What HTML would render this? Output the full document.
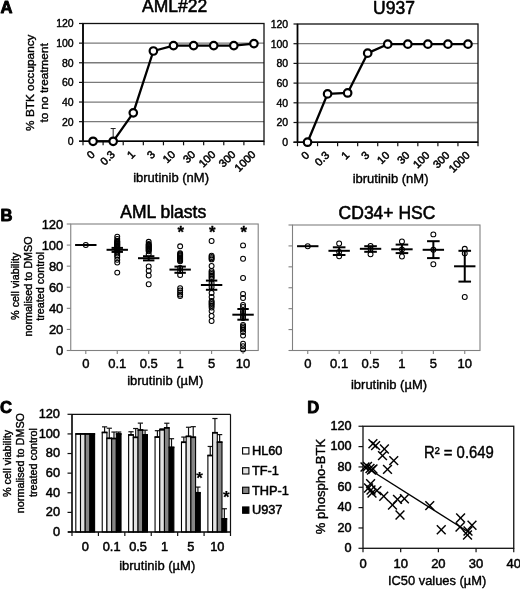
<!DOCTYPE html>
<html lang="en">
<head>
<meta charset="utf-8">
<title>Figure</title>
<style>
html,body{margin:0;padding:0;background:#fff;}
body{width:520px;height:589px;overflow:hidden;}
svg{display:block;font-family:'Liberation Sans', sans-serif;}
</style>
</head>
<body>
<svg width="520" height="589" viewBox="0 0 520 589">
<rect x="0" y="0" width="520" height="589" fill="#fff"/>
<line x1="83.00" y1="121.67" x2="264.00" y2="121.67" stroke="#7a7a7a" stroke-width="1.3" />
<line x1="83.00" y1="102.03" x2="264.00" y2="102.03" stroke="#7a7a7a" stroke-width="1.3" />
<line x1="83.00" y1="82.40" x2="264.00" y2="82.40" stroke="#7a7a7a" stroke-width="1.3" />
<line x1="83.00" y1="62.77" x2="264.00" y2="62.77" stroke="#7a7a7a" stroke-width="1.3" />
<line x1="83.00" y1="43.13" x2="264.00" y2="43.13" stroke="#7a7a7a" stroke-width="1.3" />
<rect x="83.00" y="23.50" width="181.00" height="117.80" fill="none" stroke="#111" stroke-width="1.3"/>
<line x1="83.00" y1="23.50" x2="83.00" y2="141.30" stroke="#000" stroke-width="1.6" />
<line x1="79.00" y1="141.30" x2="264.00" y2="141.30" stroke="#000" stroke-width="1.6" />
<line x1="79.00" y1="141.30" x2="83.00" y2="141.30" stroke="#111" stroke-width="1.2" />
<text x="73.70" y="145.20" font-size="10.5" text-anchor="end" font-weight="normal" fill="#000"  stroke="#000" stroke-width="0.4" stroke-linejoin="round">0</text>
<line x1="79.00" y1="121.67" x2="83.00" y2="121.67" stroke="#111" stroke-width="1.2" />
<text x="73.70" y="125.57" font-size="10.5" text-anchor="end" font-weight="normal" fill="#000"  stroke="#000" stroke-width="0.4" stroke-linejoin="round">20</text>
<line x1="79.00" y1="102.03" x2="83.00" y2="102.03" stroke="#111" stroke-width="1.2" />
<text x="73.70" y="105.93" font-size="10.5" text-anchor="end" font-weight="normal" fill="#000"  stroke="#000" stroke-width="0.4" stroke-linejoin="round">40</text>
<line x1="79.00" y1="82.40" x2="83.00" y2="82.40" stroke="#111" stroke-width="1.2" />
<text x="73.70" y="86.30" font-size="10.5" text-anchor="end" font-weight="normal" fill="#000"  stroke="#000" stroke-width="0.4" stroke-linejoin="round">60</text>
<line x1="79.00" y1="62.77" x2="83.00" y2="62.77" stroke="#111" stroke-width="1.2" />
<text x="73.70" y="66.67" font-size="10.5" text-anchor="end" font-weight="normal" fill="#000"  stroke="#000" stroke-width="0.4" stroke-linejoin="round">80</text>
<line x1="79.00" y1="43.13" x2="83.00" y2="43.13" stroke="#111" stroke-width="1.2" />
<text x="73.70" y="47.03" font-size="10.5" text-anchor="end" font-weight="normal" fill="#000"  stroke="#000" stroke-width="0.4" stroke-linejoin="round">100</text>
<line x1="79.00" y1="23.50" x2="83.00" y2="23.50" stroke="#111" stroke-width="1.2" />
<text x="73.70" y="27.40" font-size="10.5" text-anchor="end" font-weight="normal" fill="#000"  stroke="#000" stroke-width="0.4" stroke-linejoin="round">120</text>
<line x1="83.00" y1="141.30" x2="83.00" y2="145.30" stroke="#111" stroke-width="1.2" />
<line x1="103.11" y1="141.30" x2="103.11" y2="145.30" stroke="#111" stroke-width="1.2" />
<line x1="123.22" y1="141.30" x2="123.22" y2="145.30" stroke="#111" stroke-width="1.2" />
<line x1="143.33" y1="141.30" x2="143.33" y2="145.30" stroke="#111" stroke-width="1.2" />
<line x1="163.44" y1="141.30" x2="163.44" y2="145.30" stroke="#111" stroke-width="1.2" />
<line x1="183.56" y1="141.30" x2="183.56" y2="145.30" stroke="#111" stroke-width="1.2" />
<line x1="203.67" y1="141.30" x2="203.67" y2="145.30" stroke="#111" stroke-width="1.2" />
<line x1="223.78" y1="141.30" x2="223.78" y2="145.30" stroke="#111" stroke-width="1.2" />
<line x1="243.89" y1="141.30" x2="243.89" y2="145.30" stroke="#111" stroke-width="1.2" />
<line x1="264.00" y1="141.30" x2="264.00" y2="145.30" stroke="#111" stroke-width="1.2" />
<text x="95.56" y="155.10" font-size="11" text-anchor="end" font-weight="normal" fill="#000" transform="rotate(-45 95.56 155.10)"  stroke="#000" stroke-width="0.5" stroke-linejoin="round">0</text>
<text x="115.67" y="155.10" font-size="11" text-anchor="end" font-weight="normal" fill="#000" transform="rotate(-45 115.67 155.10)"  stroke="#000" stroke-width="0.5" stroke-linejoin="round">0.3</text>
<text x="135.78" y="155.10" font-size="11" text-anchor="end" font-weight="normal" fill="#000" transform="rotate(-45 135.78 155.10)"  stroke="#000" stroke-width="0.5" stroke-linejoin="round">1</text>
<text x="155.89" y="155.10" font-size="11" text-anchor="end" font-weight="normal" fill="#000" transform="rotate(-45 155.89 155.10)"  stroke="#000" stroke-width="0.5" stroke-linejoin="round">3</text>
<text x="176.00" y="155.10" font-size="11" text-anchor="end" font-weight="normal" fill="#000" transform="rotate(-45 176.00 155.10)"  stroke="#000" stroke-width="0.5" stroke-linejoin="round">10</text>
<text x="196.11" y="155.10" font-size="11" text-anchor="end" font-weight="normal" fill="#000" transform="rotate(-45 196.11 155.10)"  stroke="#000" stroke-width="0.5" stroke-linejoin="round">30</text>
<text x="216.22" y="155.10" font-size="11" text-anchor="end" font-weight="normal" fill="#000" transform="rotate(-45 216.22 155.10)"  stroke="#000" stroke-width="0.5" stroke-linejoin="round">100</text>
<text x="236.33" y="155.10" font-size="11" text-anchor="end" font-weight="normal" fill="#000" transform="rotate(-45 236.33 155.10)"  stroke="#000" stroke-width="0.5" stroke-linejoin="round">300</text>
<text x="256.44" y="155.10" font-size="11" text-anchor="end" font-weight="normal" fill="#000" transform="rotate(-45 256.44 155.10)"  stroke="#000" stroke-width="0.5" stroke-linejoin="round">1000</text>
<line x1="93.06" y1="141.30" x2="93.06" y2="138.36" stroke="#222" stroke-width="1" />
<line x1="90.56" y1="138.36" x2="95.56" y2="138.36" stroke="#222" stroke-width="1" />
<line x1="113.17" y1="141.30" x2="113.17" y2="128.54" stroke="#222" stroke-width="1" />
<line x1="110.67" y1="128.54" x2="115.67" y2="128.54" stroke="#222" stroke-width="1" />
<path d="M93.06,141.30 L113.17,141.30 L133.28,112.83 L153.39,50.99 L173.50,45.59 L193.61,45.59 L213.72,45.59 L233.83,45.59 L253.94,43.62" fill="none" stroke="#000" stroke-width="2.3" stroke-linejoin="round"/>
<circle cx="93.06" cy="141.30" r="3.75" fill="#fff" stroke="#000" stroke-width="2.2"/>
<circle cx="113.17" cy="141.30" r="3.75" fill="#fff" stroke="#000" stroke-width="2.2"/>
<circle cx="133.28" cy="112.83" r="3.75" fill="#fff" stroke="#000" stroke-width="2.2"/>
<circle cx="153.39" cy="50.99" r="3.75" fill="#fff" stroke="#000" stroke-width="2.2"/>
<circle cx="173.50" cy="45.59" r="3.75" fill="#fff" stroke="#000" stroke-width="2.2"/>
<circle cx="193.61" cy="45.59" r="3.75" fill="#fff" stroke="#000" stroke-width="2.2"/>
<circle cx="213.72" cy="45.59" r="3.75" fill="#fff" stroke="#000" stroke-width="2.2"/>
<circle cx="233.83" cy="45.59" r="3.75" fill="#fff" stroke="#000" stroke-width="2.2"/>
<circle cx="253.94" cy="43.62" r="3.75" fill="#fff" stroke="#000" stroke-width="2.2"/>
<text x="174.60" y="12.40" font-size="17.5" text-anchor="middle" font-weight="normal" fill="#000"  stroke="#000" stroke-width="0.55" stroke-linejoin="round">AML#22</text>
<text x="171.10" y="182.40" font-size="13" text-anchor="middle" font-weight="normal" fill="#000"  stroke="#000" stroke-width="0.4" stroke-linejoin="round">ibrutinib (nM)</text>
<line x1="297.50" y1="122.50" x2="478.00" y2="122.50" stroke="#7a7a7a" stroke-width="1.3" />
<line x1="297.50" y1="102.80" x2="478.00" y2="102.80" stroke="#7a7a7a" stroke-width="1.3" />
<line x1="297.50" y1="83.10" x2="478.00" y2="83.10" stroke="#7a7a7a" stroke-width="1.3" />
<line x1="297.50" y1="63.40" x2="478.00" y2="63.40" stroke="#7a7a7a" stroke-width="1.3" />
<line x1="297.50" y1="43.70" x2="478.00" y2="43.70" stroke="#7a7a7a" stroke-width="1.3" />
<rect x="297.50" y="24.00" width="180.50" height="118.20" fill="none" stroke="#111" stroke-width="1.3"/>
<line x1="297.50" y1="24.00" x2="297.50" y2="142.20" stroke="#000" stroke-width="1.6" />
<line x1="293.50" y1="142.20" x2="478.00" y2="142.20" stroke="#000" stroke-width="1.6" />
<line x1="293.50" y1="142.20" x2="297.50" y2="142.20" stroke="#111" stroke-width="1.2" />
<text x="288.20" y="146.10" font-size="10.5" text-anchor="end" font-weight="normal" fill="#000"  stroke="#000" stroke-width="0.4" stroke-linejoin="round">0</text>
<line x1="293.50" y1="122.50" x2="297.50" y2="122.50" stroke="#111" stroke-width="1.2" />
<text x="288.20" y="126.40" font-size="10.5" text-anchor="end" font-weight="normal" fill="#000"  stroke="#000" stroke-width="0.4" stroke-linejoin="round">20</text>
<line x1="293.50" y1="102.80" x2="297.50" y2="102.80" stroke="#111" stroke-width="1.2" />
<text x="288.20" y="106.70" font-size="10.5" text-anchor="end" font-weight="normal" fill="#000"  stroke="#000" stroke-width="0.4" stroke-linejoin="round">40</text>
<line x1="293.50" y1="83.10" x2="297.50" y2="83.10" stroke="#111" stroke-width="1.2" />
<text x="288.20" y="87.00" font-size="10.5" text-anchor="end" font-weight="normal" fill="#000"  stroke="#000" stroke-width="0.4" stroke-linejoin="round">60</text>
<line x1="293.50" y1="63.40" x2="297.50" y2="63.40" stroke="#111" stroke-width="1.2" />
<text x="288.20" y="67.30" font-size="10.5" text-anchor="end" font-weight="normal" fill="#000"  stroke="#000" stroke-width="0.4" stroke-linejoin="round">80</text>
<line x1="293.50" y1="43.70" x2="297.50" y2="43.70" stroke="#111" stroke-width="1.2" />
<text x="288.20" y="47.60" font-size="10.5" text-anchor="end" font-weight="normal" fill="#000"  stroke="#000" stroke-width="0.4" stroke-linejoin="round">100</text>
<line x1="293.50" y1="24.00" x2="297.50" y2="24.00" stroke="#111" stroke-width="1.2" />
<text x="288.20" y="27.90" font-size="10.5" text-anchor="end" font-weight="normal" fill="#000"  stroke="#000" stroke-width="0.4" stroke-linejoin="round">120</text>
<line x1="297.50" y1="142.20" x2="297.50" y2="146.20" stroke="#111" stroke-width="1.2" />
<line x1="317.56" y1="142.20" x2="317.56" y2="146.20" stroke="#111" stroke-width="1.2" />
<line x1="337.61" y1="142.20" x2="337.61" y2="146.20" stroke="#111" stroke-width="1.2" />
<line x1="357.67" y1="142.20" x2="357.67" y2="146.20" stroke="#111" stroke-width="1.2" />
<line x1="377.72" y1="142.20" x2="377.72" y2="146.20" stroke="#111" stroke-width="1.2" />
<line x1="397.78" y1="142.20" x2="397.78" y2="146.20" stroke="#111" stroke-width="1.2" />
<line x1="417.83" y1="142.20" x2="417.83" y2="146.20" stroke="#111" stroke-width="1.2" />
<line x1="437.89" y1="142.20" x2="437.89" y2="146.20" stroke="#111" stroke-width="1.2" />
<line x1="457.94" y1="142.20" x2="457.94" y2="146.20" stroke="#111" stroke-width="1.2" />
<line x1="478.00" y1="142.20" x2="478.00" y2="146.20" stroke="#111" stroke-width="1.2" />
<text x="310.03" y="156.00" font-size="11" text-anchor="end" font-weight="normal" fill="#000" transform="rotate(-45 310.03 156.00)"  stroke="#000" stroke-width="0.5" stroke-linejoin="round">0</text>
<text x="330.08" y="156.00" font-size="11" text-anchor="end" font-weight="normal" fill="#000" transform="rotate(-45 330.08 156.00)"  stroke="#000" stroke-width="0.5" stroke-linejoin="round">0.3</text>
<text x="350.14" y="156.00" font-size="11" text-anchor="end" font-weight="normal" fill="#000" transform="rotate(-45 350.14 156.00)"  stroke="#000" stroke-width="0.5" stroke-linejoin="round">1</text>
<text x="370.19" y="156.00" font-size="11" text-anchor="end" font-weight="normal" fill="#000" transform="rotate(-45 370.19 156.00)"  stroke="#000" stroke-width="0.5" stroke-linejoin="round">3</text>
<text x="390.25" y="156.00" font-size="11" text-anchor="end" font-weight="normal" fill="#000" transform="rotate(-45 390.25 156.00)"  stroke="#000" stroke-width="0.5" stroke-linejoin="round">10</text>
<text x="410.31" y="156.00" font-size="11" text-anchor="end" font-weight="normal" fill="#000" transform="rotate(-45 410.31 156.00)"  stroke="#000" stroke-width="0.5" stroke-linejoin="round">30</text>
<text x="430.36" y="156.00" font-size="11" text-anchor="end" font-weight="normal" fill="#000" transform="rotate(-45 430.36 156.00)"  stroke="#000" stroke-width="0.5" stroke-linejoin="round">100</text>
<text x="450.42" y="156.00" font-size="11" text-anchor="end" font-weight="normal" fill="#000" transform="rotate(-45 450.42 156.00)"  stroke="#000" stroke-width="0.5" stroke-linejoin="round">300</text>
<text x="470.47" y="156.00" font-size="11" text-anchor="end" font-weight="normal" fill="#000" transform="rotate(-45 470.47 156.00)"  stroke="#000" stroke-width="0.5" stroke-linejoin="round">1000</text>
<path d="M307.53,142.20 L327.58,93.93 L347.64,92.95 L367.69,53.16 L387.75,44.19 L407.81,44.19 L427.86,44.19 L447.92,44.19 L467.97,44.19" fill="none" stroke="#000" stroke-width="2.3" stroke-linejoin="round"/>
<circle cx="307.53" cy="142.20" r="3.75" fill="#fff" stroke="#000" stroke-width="2.2"/>
<circle cx="327.58" cy="93.93" r="3.75" fill="#fff" stroke="#000" stroke-width="2.2"/>
<circle cx="347.64" cy="92.95" r="3.75" fill="#fff" stroke="#000" stroke-width="2.2"/>
<circle cx="367.69" cy="53.16" r="3.75" fill="#fff" stroke="#000" stroke-width="2.2"/>
<circle cx="387.75" cy="44.19" r="3.75" fill="#fff" stroke="#000" stroke-width="2.2"/>
<circle cx="407.81" cy="44.19" r="3.75" fill="#fff" stroke="#000" stroke-width="2.2"/>
<circle cx="427.86" cy="44.19" r="3.75" fill="#fff" stroke="#000" stroke-width="2.2"/>
<circle cx="447.92" cy="44.19" r="3.75" fill="#fff" stroke="#000" stroke-width="2.2"/>
<circle cx="467.97" cy="44.19" r="3.75" fill="#fff" stroke="#000" stroke-width="2.2"/>
<text x="394.00" y="13.50" font-size="17.5" text-anchor="middle" font-weight="normal" fill="#000"  stroke="#000" stroke-width="0.55" stroke-linejoin="round">U937</text>
<text x="390.60" y="183.30" font-size="13" text-anchor="middle" font-weight="normal" fill="#000"  stroke="#000" stroke-width="0.4" stroke-linejoin="round">ibrutinib (nM)</text>
<text x="34.40" y="82.70" font-size="11.8" text-anchor="middle" font-weight="normal" fill="#000" transform="rotate(-90 34.40 82.70)"  stroke="#000" stroke-width="0.4" stroke-linejoin="round">% BTK occupancy</text>
<text x="48.40" y="82.90" font-size="11.8" text-anchor="middle" font-weight="normal" fill="#000" transform="rotate(-90 48.40 82.90)"  stroke="#000" stroke-width="0.4" stroke-linejoin="round">to no treatment</text>
<text x="0.40" y="13.40" font-size="16.6" text-anchor="start" font-weight="bold" fill="#000"  stroke="#000" stroke-width="0.9" stroke-linejoin="round">A</text>
<text x="0.50" y="220.50" font-size="16.6" text-anchor="start" font-weight="bold" fill="#000"  stroke="#000" stroke-width="0.9" stroke-linejoin="round">B</text>
<text x="0.10" y="412.70" font-size="16.6" text-anchor="start" font-weight="bold" fill="#000"  stroke="#000" stroke-width="0.9" stroke-linejoin="round">C</text>
<text x="307.30" y="412.90" font-size="16.6" text-anchor="start" font-weight="bold" fill="#000"  stroke="#000" stroke-width="0.9" stroke-linejoin="round">D</text>
<rect x="70.75" y="224.00" width="187.45" height="126.50" fill="none" stroke="#808080" stroke-width="1.1"/>
<line x1="66.75" y1="350.50" x2="70.75" y2="350.50" stroke="#808080" stroke-width="1.1" />
<text x="63.35" y="355.10" font-size="13" text-anchor="end" font-weight="normal" fill="#000"  stroke="#000" stroke-width="0.45" stroke-linejoin="round">0</text>
<line x1="66.75" y1="329.42" x2="70.75" y2="329.42" stroke="#808080" stroke-width="1.1" />
<text x="63.35" y="334.02" font-size="13" text-anchor="end" font-weight="normal" fill="#000"  stroke="#000" stroke-width="0.45" stroke-linejoin="round">20</text>
<line x1="66.75" y1="308.33" x2="70.75" y2="308.33" stroke="#808080" stroke-width="1.1" />
<text x="63.35" y="312.93" font-size="13" text-anchor="end" font-weight="normal" fill="#000"  stroke="#000" stroke-width="0.45" stroke-linejoin="round">40</text>
<line x1="66.75" y1="287.25" x2="70.75" y2="287.25" stroke="#808080" stroke-width="1.1" />
<text x="63.35" y="291.85" font-size="13" text-anchor="end" font-weight="normal" fill="#000"  stroke="#000" stroke-width="0.45" stroke-linejoin="round">60</text>
<line x1="66.75" y1="266.17" x2="70.75" y2="266.17" stroke="#808080" stroke-width="1.1" />
<text x="63.35" y="270.77" font-size="13" text-anchor="end" font-weight="normal" fill="#000"  stroke="#000" stroke-width="0.45" stroke-linejoin="round">80</text>
<line x1="66.75" y1="245.08" x2="70.75" y2="245.08" stroke="#808080" stroke-width="1.1" />
<text x="63.35" y="249.68" font-size="13" text-anchor="end" font-weight="normal" fill="#000"  stroke="#000" stroke-width="0.45" stroke-linejoin="round">100</text>
<line x1="66.75" y1="224.00" x2="70.75" y2="224.00" stroke="#808080" stroke-width="1.1" />
<text x="63.35" y="228.60" font-size="13" text-anchor="end" font-weight="normal" fill="#000"  stroke="#000" stroke-width="0.45" stroke-linejoin="round">120</text>
<line x1="85.80" y1="350.50" x2="85.80" y2="354.00" stroke="#808080" stroke-width="1.1" />
<text x="85.80" y="368.10" font-size="13" text-anchor="middle" font-weight="normal" fill="#000"  stroke="#000" stroke-width="0.45" stroke-linejoin="round">0</text>
<line x1="117.25" y1="350.50" x2="117.25" y2="354.00" stroke="#808080" stroke-width="1.1" />
<text x="117.25" y="368.10" font-size="13" text-anchor="middle" font-weight="normal" fill="#000"  stroke="#000" stroke-width="0.45" stroke-linejoin="round">0.1</text>
<line x1="148.70" y1="350.50" x2="148.70" y2="354.00" stroke="#808080" stroke-width="1.1" />
<text x="148.70" y="368.10" font-size="13" text-anchor="middle" font-weight="normal" fill="#000"  stroke="#000" stroke-width="0.45" stroke-linejoin="round">0.5</text>
<line x1="180.15" y1="350.50" x2="180.15" y2="354.00" stroke="#808080" stroke-width="1.1" />
<text x="180.15" y="368.10" font-size="13" text-anchor="middle" font-weight="normal" fill="#000"  stroke="#000" stroke-width="0.45" stroke-linejoin="round">1</text>
<line x1="211.60" y1="350.50" x2="211.60" y2="354.00" stroke="#808080" stroke-width="1.1" />
<text x="211.60" y="368.10" font-size="13" text-anchor="middle" font-weight="normal" fill="#000"  stroke="#000" stroke-width="0.45" stroke-linejoin="round">5</text>
<line x1="243.05" y1="350.50" x2="243.05" y2="354.00" stroke="#808080" stroke-width="1.1" />
<text x="243.05" y="368.10" font-size="13" text-anchor="middle" font-weight="normal" fill="#000"  stroke="#000" stroke-width="0.45" stroke-linejoin="round">10</text>
<circle cx="85.80" cy="245.00" r="2.45" fill="none" stroke="#000" stroke-width="1.05"/>
<line x1="75.10" y1="245.00" x2="96.50" y2="245.00" stroke="#000" stroke-width="2.0" />
<circle cx="117.25" cy="236.60" r="2.45" fill="none" stroke="#000" stroke-width="1.05"/>
<circle cx="117.25" cy="239.00" r="2.45" fill="none" stroke="#000" stroke-width="1.05"/>
<circle cx="117.25" cy="241.00" r="2.45" fill="none" stroke="#000" stroke-width="1.05"/>
<circle cx="117.25" cy="241.80" r="2.45" fill="none" stroke="#000" stroke-width="1.05"/>
<circle cx="117.25" cy="242.60" r="2.45" fill="none" stroke="#000" stroke-width="1.05"/>
<circle cx="117.25" cy="243.40" r="2.45" fill="none" stroke="#000" stroke-width="1.05"/>
<circle cx="117.25" cy="244.20" r="2.45" fill="none" stroke="#000" stroke-width="1.05"/>
<circle cx="117.25" cy="245.00" r="2.45" fill="none" stroke="#000" stroke-width="1.05"/>
<circle cx="117.25" cy="245.80" r="2.45" fill="none" stroke="#000" stroke-width="1.05"/>
<circle cx="117.25" cy="246.60" r="2.45" fill="none" stroke="#000" stroke-width="1.05"/>
<circle cx="117.25" cy="247.40" r="2.45" fill="none" stroke="#000" stroke-width="1.05"/>
<circle cx="117.25" cy="248.50" r="2.45" fill="none" stroke="#000" stroke-width="1.05"/>
<circle cx="117.25" cy="250.00" r="2.45" fill="none" stroke="#000" stroke-width="1.05"/>
<circle cx="117.25" cy="251.50" r="2.45" fill="none" stroke="#000" stroke-width="1.05"/>
<circle cx="117.25" cy="253.50" r="2.45" fill="none" stroke="#000" stroke-width="1.05"/>
<circle cx="117.25" cy="255.20" r="2.45" fill="none" stroke="#000" stroke-width="1.05"/>
<circle cx="117.25" cy="256.80" r="2.45" fill="none" stroke="#000" stroke-width="1.05"/>
<circle cx="117.25" cy="259.70" r="2.45" fill="none" stroke="#000" stroke-width="1.05"/>
<circle cx="117.25" cy="262.60" r="2.45" fill="none" stroke="#000" stroke-width="1.05"/>
<circle cx="117.25" cy="272.60" r="2.45" fill="none" stroke="#000" stroke-width="1.05"/>
<line x1="106.55" y1="249.80" x2="127.95" y2="249.80" stroke="#000" stroke-width="2.0" />
<line x1="117.25" y1="247.90" x2="117.25" y2="251.90" stroke="#000" stroke-width="2.0" />
<line x1="111.55" y1="247.90" x2="122.95" y2="247.90" stroke="#000" stroke-width="2.0" />
<line x1="111.55" y1="251.90" x2="122.95" y2="251.90" stroke="#000" stroke-width="2.0" />
<circle cx="148.70" cy="241.80" r="2.45" fill="none" stroke="#000" stroke-width="1.05"/>
<circle cx="148.70" cy="244.00" r="2.45" fill="none" stroke="#000" stroke-width="1.05"/>
<circle cx="148.70" cy="244.80" r="2.45" fill="none" stroke="#000" stroke-width="1.05"/>
<circle cx="148.70" cy="245.60" r="2.45" fill="none" stroke="#000" stroke-width="1.05"/>
<circle cx="148.70" cy="246.40" r="2.45" fill="none" stroke="#000" stroke-width="1.05"/>
<circle cx="148.70" cy="247.20" r="2.45" fill="none" stroke="#000" stroke-width="1.05"/>
<circle cx="148.70" cy="248.00" r="2.45" fill="none" stroke="#000" stroke-width="1.05"/>
<circle cx="148.70" cy="248.80" r="2.45" fill="none" stroke="#000" stroke-width="1.05"/>
<circle cx="148.70" cy="249.60" r="2.45" fill="none" stroke="#000" stroke-width="1.05"/>
<circle cx="148.70" cy="250.40" r="2.45" fill="none" stroke="#000" stroke-width="1.05"/>
<circle cx="148.70" cy="251.20" r="2.45" fill="none" stroke="#000" stroke-width="1.05"/>
<circle cx="148.70" cy="254.00" r="2.45" fill="none" stroke="#000" stroke-width="1.05"/>
<circle cx="148.70" cy="266.50" r="2.45" fill="none" stroke="#000" stroke-width="1.05"/>
<circle cx="148.70" cy="270.70" r="2.45" fill="none" stroke="#000" stroke-width="1.05"/>
<circle cx="148.70" cy="275.50" r="2.45" fill="none" stroke="#000" stroke-width="1.05"/>
<circle cx="148.70" cy="284.20" r="2.45" fill="none" stroke="#000" stroke-width="1.05"/>
<line x1="138.00" y1="258.20" x2="159.40" y2="258.20" stroke="#000" stroke-width="2.0" />
<line x1="148.70" y1="256.20" x2="148.70" y2="260.40" stroke="#000" stroke-width="2.0" />
<line x1="143.00" y1="256.20" x2="154.40" y2="256.20" stroke="#000" stroke-width="2.0" />
<line x1="143.00" y1="260.40" x2="154.40" y2="260.40" stroke="#000" stroke-width="2.0" />
<circle cx="180.15" cy="246.30" r="2.45" fill="none" stroke="#000" stroke-width="1.05"/>
<circle cx="180.15" cy="253.30" r="2.45" fill="none" stroke="#000" stroke-width="1.05"/>
<circle cx="180.15" cy="254.30" r="2.45" fill="none" stroke="#000" stroke-width="1.05"/>
<circle cx="180.15" cy="255.30" r="2.45" fill="none" stroke="#000" stroke-width="1.05"/>
<circle cx="180.15" cy="256.30" r="2.45" fill="none" stroke="#000" stroke-width="1.05"/>
<circle cx="180.15" cy="257.30" r="2.45" fill="none" stroke="#000" stroke-width="1.05"/>
<circle cx="180.15" cy="258.30" r="2.45" fill="none" stroke="#000" stroke-width="1.05"/>
<circle cx="180.15" cy="259.30" r="2.45" fill="none" stroke="#000" stroke-width="1.05"/>
<circle cx="180.15" cy="260.30" r="2.45" fill="none" stroke="#000" stroke-width="1.05"/>
<circle cx="180.15" cy="261.30" r="2.45" fill="none" stroke="#000" stroke-width="1.05"/>
<circle cx="180.15" cy="268.00" r="2.45" fill="none" stroke="#000" stroke-width="1.05"/>
<circle cx="180.15" cy="271.00" r="2.45" fill="none" stroke="#000" stroke-width="1.05"/>
<circle cx="180.15" cy="275.00" r="2.45" fill="none" stroke="#000" stroke-width="1.05"/>
<circle cx="180.15" cy="288.20" r="2.45" fill="none" stroke="#000" stroke-width="1.05"/>
<circle cx="180.15" cy="290.50" r="2.45" fill="none" stroke="#000" stroke-width="1.05"/>
<circle cx="180.15" cy="292.50" r="2.45" fill="none" stroke="#000" stroke-width="1.05"/>
<circle cx="180.15" cy="294.50" r="2.45" fill="none" stroke="#000" stroke-width="1.05"/>
<circle cx="180.15" cy="296.00" r="2.45" fill="none" stroke="#000" stroke-width="1.05"/>
<line x1="169.45" y1="269.60" x2="190.85" y2="269.60" stroke="#000" stroke-width="2.0" />
<line x1="180.15" y1="266.60" x2="180.15" y2="272.80" stroke="#000" stroke-width="2.0" />
<line x1="174.45" y1="266.60" x2="185.85" y2="266.60" stroke="#000" stroke-width="2.0" />
<line x1="174.45" y1="272.80" x2="185.85" y2="272.80" stroke="#000" stroke-width="2.0" />
<text x="180.85" y="238.10" font-size="16.8" text-anchor="middle" font-weight="bold" fill="#000"  stroke="#000" stroke-width="0.3" stroke-linejoin="round">*</text>
<circle cx="211.60" cy="241.00" r="2.45" fill="none" stroke="#000" stroke-width="1.05"/>
<circle cx="211.60" cy="255.60" r="2.45" fill="none" stroke="#000" stroke-width="1.05"/>
<circle cx="211.60" cy="257.00" r="2.45" fill="none" stroke="#000" stroke-width="1.05"/>
<circle cx="211.60" cy="258.20" r="2.45" fill="none" stroke="#000" stroke-width="1.05"/>
<circle cx="211.60" cy="259.40" r="2.45" fill="none" stroke="#000" stroke-width="1.05"/>
<circle cx="211.60" cy="266.00" r="2.45" fill="none" stroke="#000" stroke-width="1.05"/>
<circle cx="211.60" cy="271.00" r="2.45" fill="none" stroke="#000" stroke-width="1.05"/>
<circle cx="211.60" cy="272.50" r="2.45" fill="none" stroke="#000" stroke-width="1.05"/>
<circle cx="211.60" cy="274.00" r="2.45" fill="none" stroke="#000" stroke-width="1.05"/>
<circle cx="211.60" cy="275.50" r="2.45" fill="none" stroke="#000" stroke-width="1.05"/>
<circle cx="211.60" cy="277.00" r="2.45" fill="none" stroke="#000" stroke-width="1.05"/>
<circle cx="211.60" cy="278.50" r="2.45" fill="none" stroke="#000" stroke-width="1.05"/>
<circle cx="211.60" cy="283.00" r="2.45" fill="none" stroke="#000" stroke-width="1.05"/>
<circle cx="211.60" cy="287.00" r="2.45" fill="none" stroke="#000" stroke-width="1.05"/>
<circle cx="211.60" cy="293.00" r="2.45" fill="none" stroke="#000" stroke-width="1.05"/>
<circle cx="211.60" cy="297.00" r="2.45" fill="none" stroke="#000" stroke-width="1.05"/>
<circle cx="211.60" cy="301.00" r="2.45" fill="none" stroke="#000" stroke-width="1.05"/>
<circle cx="211.60" cy="302.50" r="2.45" fill="none" stroke="#000" stroke-width="1.05"/>
<circle cx="211.60" cy="304.00" r="2.45" fill="none" stroke="#000" stroke-width="1.05"/>
<circle cx="211.60" cy="305.50" r="2.45" fill="none" stroke="#000" stroke-width="1.05"/>
<circle cx="211.60" cy="307.50" r="2.45" fill="none" stroke="#000" stroke-width="1.05"/>
<circle cx="211.60" cy="311.00" r="2.45" fill="none" stroke="#000" stroke-width="1.05"/>
<circle cx="211.60" cy="316.00" r="2.45" fill="none" stroke="#000" stroke-width="1.05"/>
<circle cx="211.60" cy="321.00" r="2.45" fill="none" stroke="#000" stroke-width="1.05"/>
<line x1="200.90" y1="285.00" x2="222.30" y2="285.00" stroke="#000" stroke-width="2.0" />
<line x1="211.60" y1="280.60" x2="211.60" y2="289.80" stroke="#000" stroke-width="2.0" />
<line x1="205.90" y1="280.60" x2="217.30" y2="280.60" stroke="#000" stroke-width="2.0" />
<line x1="205.90" y1="289.80" x2="217.30" y2="289.80" stroke="#000" stroke-width="2.0" />
<text x="212.30" y="238.10" font-size="16.8" text-anchor="middle" font-weight="bold" fill="#000"  stroke="#000" stroke-width="0.3" stroke-linejoin="round">*</text>
<circle cx="243.05" cy="245.40" r="2.45" fill="none" stroke="#000" stroke-width="1.05"/>
<circle cx="243.05" cy="258.70" r="2.45" fill="none" stroke="#000" stroke-width="1.05"/>
<circle cx="243.05" cy="278.00" r="2.45" fill="none" stroke="#000" stroke-width="1.05"/>
<circle cx="243.05" cy="294.00" r="2.45" fill="none" stroke="#000" stroke-width="1.05"/>
<circle cx="243.05" cy="298.00" r="2.45" fill="none" stroke="#000" stroke-width="1.05"/>
<circle cx="243.05" cy="305.00" r="2.45" fill="none" stroke="#000" stroke-width="1.05"/>
<circle cx="243.05" cy="307.00" r="2.45" fill="none" stroke="#000" stroke-width="1.05"/>
<circle cx="243.05" cy="311.00" r="2.45" fill="none" stroke="#000" stroke-width="1.05"/>
<circle cx="243.05" cy="313.00" r="2.45" fill="none" stroke="#000" stroke-width="1.05"/>
<circle cx="243.05" cy="316.00" r="2.45" fill="none" stroke="#000" stroke-width="1.05"/>
<circle cx="243.05" cy="318.00" r="2.45" fill="none" stroke="#000" stroke-width="1.05"/>
<circle cx="243.05" cy="325.00" r="2.45" fill="none" stroke="#000" stroke-width="1.05"/>
<circle cx="243.05" cy="326.50" r="2.45" fill="none" stroke="#000" stroke-width="1.05"/>
<circle cx="243.05" cy="328.00" r="2.45" fill="none" stroke="#000" stroke-width="1.05"/>
<circle cx="243.05" cy="329.50" r="2.45" fill="none" stroke="#000" stroke-width="1.05"/>
<circle cx="243.05" cy="332.00" r="2.45" fill="none" stroke="#000" stroke-width="1.05"/>
<circle cx="243.05" cy="335.60" r="2.45" fill="none" stroke="#000" stroke-width="1.05"/>
<circle cx="243.05" cy="343.70" r="2.45" fill="none" stroke="#000" stroke-width="1.05"/>
<circle cx="243.05" cy="346.20" r="2.45" fill="none" stroke="#000" stroke-width="1.05"/>
<circle cx="243.05" cy="349.40" r="2.45" fill="none" stroke="#000" stroke-width="1.05"/>
<line x1="232.35" y1="314.70" x2="253.75" y2="314.70" stroke="#000" stroke-width="2.0" />
<line x1="243.05" y1="309.00" x2="243.05" y2="319.70" stroke="#000" stroke-width="2.0" />
<line x1="237.35" y1="309.00" x2="248.75" y2="309.00" stroke="#000" stroke-width="2.0" />
<line x1="237.35" y1="319.70" x2="248.75" y2="319.70" stroke="#000" stroke-width="2.0" />
<text x="243.75" y="238.10" font-size="16.8" text-anchor="middle" font-weight="bold" fill="#000"  stroke="#000" stroke-width="0.3" stroke-linejoin="round">*</text>
<text x="163.20" y="218.20" font-size="17.5" text-anchor="middle" font-weight="normal" fill="#000"  stroke="#000" stroke-width="0.55" stroke-linejoin="round">AML blasts</text>
<text x="165.20" y="385.40" font-size="13" text-anchor="middle" font-weight="normal" fill="#000"  stroke="#000" stroke-width="0.4" stroke-linejoin="round">ibrutinib (µM)</text>
<rect x="292.50" y="225.00" width="187.50" height="125.50" fill="none" stroke="#808080" stroke-width="1.1"/>
<line x1="288.50" y1="350.50" x2="292.50" y2="350.50" stroke="#808080" stroke-width="1.1" />
<line x1="288.50" y1="329.58" x2="292.50" y2="329.58" stroke="#808080" stroke-width="1.1" />
<line x1="288.50" y1="308.67" x2="292.50" y2="308.67" stroke="#808080" stroke-width="1.1" />
<line x1="288.50" y1="287.75" x2="292.50" y2="287.75" stroke="#808080" stroke-width="1.1" />
<line x1="288.50" y1="266.83" x2="292.50" y2="266.83" stroke="#808080" stroke-width="1.1" />
<line x1="288.50" y1="245.92" x2="292.50" y2="245.92" stroke="#808080" stroke-width="1.1" />
<line x1="288.50" y1="225.00" x2="292.50" y2="225.00" stroke="#808080" stroke-width="1.1" />
<line x1="307.75" y1="350.50" x2="307.75" y2="354.00" stroke="#808080" stroke-width="1.1" />
<text x="307.75" y="368.10" font-size="13" text-anchor="middle" font-weight="normal" fill="#000"  stroke="#000" stroke-width="0.45" stroke-linejoin="round">0</text>
<line x1="339.15" y1="350.50" x2="339.15" y2="354.00" stroke="#808080" stroke-width="1.1" />
<text x="339.15" y="368.10" font-size="13" text-anchor="middle" font-weight="normal" fill="#000"  stroke="#000" stroke-width="0.45" stroke-linejoin="round">0.1</text>
<line x1="370.55" y1="350.50" x2="370.55" y2="354.00" stroke="#808080" stroke-width="1.1" />
<text x="370.55" y="368.10" font-size="13" text-anchor="middle" font-weight="normal" fill="#000"  stroke="#000" stroke-width="0.45" stroke-linejoin="round">0.5</text>
<line x1="401.95" y1="350.50" x2="401.95" y2="354.00" stroke="#808080" stroke-width="1.1" />
<text x="401.95" y="368.10" font-size="13" text-anchor="middle" font-weight="normal" fill="#000"  stroke="#000" stroke-width="0.45" stroke-linejoin="round">1</text>
<line x1="433.35" y1="350.50" x2="433.35" y2="354.00" stroke="#808080" stroke-width="1.1" />
<text x="433.35" y="368.10" font-size="13" text-anchor="middle" font-weight="normal" fill="#000"  stroke="#000" stroke-width="0.45" stroke-linejoin="round">5</text>
<line x1="464.75" y1="350.50" x2="464.75" y2="354.00" stroke="#808080" stroke-width="1.1" />
<text x="464.75" y="368.10" font-size="13" text-anchor="middle" font-weight="normal" fill="#000"  stroke="#000" stroke-width="0.45" stroke-linejoin="round">10</text>
<circle cx="307.75" cy="246.20" r="2.45" fill="none" stroke="#000" stroke-width="1.05"/>
<line x1="297.05" y1="246.20" x2="318.45" y2="246.20" stroke="#000" stroke-width="2.0" />
<circle cx="339.15" cy="243.50" r="2.45" fill="none" stroke="#000" stroke-width="1.05"/>
<circle cx="339.15" cy="252.00" r="2.45" fill="none" stroke="#000" stroke-width="1.05"/>
<circle cx="339.15" cy="256.20" r="2.45" fill="none" stroke="#000" stroke-width="1.05"/>
<line x1="328.45" y1="250.80" x2="349.85" y2="250.80" stroke="#000" stroke-width="2.0" />
<line x1="339.15" y1="247.30" x2="339.15" y2="255.00" stroke="#000" stroke-width="2.0" />
<line x1="332.85" y1="247.30" x2="345.45" y2="247.30" stroke="#000" stroke-width="2.0" />
<line x1="332.85" y1="255.00" x2="345.45" y2="255.00" stroke="#000" stroke-width="2.0" />
<circle cx="370.55" cy="246.00" r="2.45" fill="none" stroke="#000" stroke-width="1.05"/>
<circle cx="370.55" cy="249.00" r="2.45" fill="none" stroke="#000" stroke-width="1.05"/>
<circle cx="370.55" cy="254.20" r="2.45" fill="none" stroke="#000" stroke-width="1.05"/>
<line x1="359.85" y1="248.80" x2="381.25" y2="248.80" stroke="#000" stroke-width="2.0" />
<line x1="370.55" y1="246.20" x2="370.55" y2="251.80" stroke="#000" stroke-width="2.0" />
<line x1="364.25" y1="246.20" x2="376.85" y2="246.20" stroke="#000" stroke-width="2.0" />
<line x1="364.25" y1="251.80" x2="376.85" y2="251.80" stroke="#000" stroke-width="2.0" />
<circle cx="401.95" cy="241.50" r="2.45" fill="none" stroke="#000" stroke-width="1.05"/>
<circle cx="401.95" cy="249.50" r="2.45" fill="none" stroke="#000" stroke-width="1.05"/>
<circle cx="401.95" cy="256.50" r="2.45" fill="none" stroke="#000" stroke-width="1.05"/>
<line x1="391.25" y1="249.30" x2="412.65" y2="249.30" stroke="#000" stroke-width="2.0" />
<line x1="401.95" y1="244.60" x2="401.95" y2="253.10" stroke="#000" stroke-width="2.0" />
<line x1="395.65" y1="244.60" x2="408.25" y2="244.60" stroke="#000" stroke-width="2.0" />
<line x1="395.65" y1="253.10" x2="408.25" y2="253.10" stroke="#000" stroke-width="2.0" />
<circle cx="433.35" cy="234.40" r="2.45" fill="none" stroke="#000" stroke-width="1.05"/>
<circle cx="433.35" cy="249.80" r="2.45" fill="none" stroke="#000" stroke-width="1.05"/>
<circle cx="433.35" cy="264.20" r="2.45" fill="none" stroke="#000" stroke-width="1.05"/>
<line x1="422.65" y1="249.80" x2="444.05" y2="249.80" stroke="#000" stroke-width="2.0" />
<line x1="433.35" y1="241.20" x2="433.35" y2="258.10" stroke="#000" stroke-width="2.0" />
<line x1="427.05" y1="241.20" x2="439.65" y2="241.20" stroke="#000" stroke-width="2.0" />
<line x1="427.05" y1="258.10" x2="439.65" y2="258.10" stroke="#000" stroke-width="2.0" />
<circle cx="464.75" cy="248.80" r="2.45" fill="none" stroke="#000" stroke-width="1.05"/>
<circle cx="464.75" cy="253.50" r="2.45" fill="none" stroke="#000" stroke-width="1.05"/>
<circle cx="464.75" cy="297.00" r="2.45" fill="none" stroke="#000" stroke-width="1.05"/>
<line x1="454.05" y1="266.30" x2="475.45" y2="266.30" stroke="#000" stroke-width="2.0" />
<line x1="464.75" y1="250.80" x2="464.75" y2="281.60" stroke="#000" stroke-width="2.0" />
<line x1="458.45" y1="250.80" x2="471.05" y2="250.80" stroke="#000" stroke-width="2.0" />
<line x1="458.45" y1="281.60" x2="471.05" y2="281.60" stroke="#000" stroke-width="2.0" />
<text x="387.00" y="218.50" font-size="17.5" text-anchor="middle" font-weight="normal" fill="#000"  stroke="#000" stroke-width="0.55" stroke-linejoin="round">CD34+ HSC</text>
<text x="389.00" y="388.80" font-size="13" text-anchor="middle" font-weight="normal" fill="#000"  stroke="#000" stroke-width="0.4" stroke-linejoin="round">ibrutinib (µM)</text>
<text x="18.70" y="286.30" font-size="10.8" text-anchor="middle" font-weight="normal" fill="#000" transform="rotate(-90 18.70 286.30)"  stroke="#000" stroke-width="0.4" stroke-linejoin="round">% cell viability</text>
<text x="31.60" y="286.50" font-size="10.8" text-anchor="middle" font-weight="normal" fill="#000" transform="rotate(-90 31.60 286.50)"  stroke="#000" stroke-width="0.4" stroke-linejoin="round">normalised to DMSO</text>
<text x="44.40" y="286.30" font-size="10.8" text-anchor="middle" font-weight="normal" fill="#000" transform="rotate(-90 44.40 286.30)"  stroke="#000" stroke-width="0.4" stroke-linejoin="round">treated control</text>
<rect x="75.81" y="433.92" width="4.70" height="98.08" fill="#fff" stroke="#000" stroke-width="1.1"/>
<line x1="75.31" y1="433.92" x2="81.01" y2="433.92" stroke="#000" stroke-width="1.7" />
<rect x="80.51" y="433.92" width="4.70" height="98.08" fill="#e2e2e2" stroke="#000" stroke-width="1.1"/>
<line x1="80.01" y1="433.92" x2="85.71" y2="433.92" stroke="#000" stroke-width="1.7" />
<rect x="85.21" y="433.92" width="4.70" height="98.08" fill="#858585" stroke="#000" stroke-width="1.1"/>
<line x1="84.71" y1="433.92" x2="90.41" y2="433.92" stroke="#000" stroke-width="1.7" />
<rect x="89.91" y="433.92" width="4.70" height="98.08" fill="#000" stroke="#000" stroke-width="1.1"/>
<line x1="89.41" y1="433.92" x2="95.11" y2="433.92" stroke="#000" stroke-width="1.7" />
<line x1="104.58" y1="432.45" x2="104.58" y2="426.85" stroke="#111" stroke-width="1.2" />
<line x1="101.98" y1="426.85" x2="107.17" y2="426.85" stroke="#111" stroke-width="1.2" />
<line x1="109.28" y1="438.33" x2="109.28" y2="428.23" stroke="#111" stroke-width="1.2" />
<line x1="106.68" y1="428.23" x2="111.88" y2="428.23" stroke="#111" stroke-width="1.2" />
<line x1="113.98" y1="438.53" x2="113.98" y2="432.05" stroke="#111" stroke-width="1.2" />
<line x1="111.38" y1="432.05" x2="116.58" y2="432.05" stroke="#111" stroke-width="1.2" />
<line x1="118.68" y1="433.92" x2="118.68" y2="432.05" stroke="#111" stroke-width="1.2" />
<line x1="116.08" y1="432.05" x2="121.28" y2="432.05" stroke="#111" stroke-width="1.2" />
<rect x="102.23" y="432.45" width="4.70" height="99.55" fill="#fff" stroke="#000" stroke-width="1.1"/>
<line x1="101.73" y1="432.45" x2="107.43" y2="432.45" stroke="#000" stroke-width="1.7" />
<rect x="106.93" y="438.33" width="4.70" height="93.67" fill="#e2e2e2" stroke="#000" stroke-width="1.1"/>
<line x1="106.43" y1="438.33" x2="112.13" y2="438.33" stroke="#000" stroke-width="1.7" />
<rect x="111.63" y="438.53" width="4.70" height="93.47" fill="#858585" stroke="#000" stroke-width="1.1"/>
<line x1="111.13" y1="438.53" x2="116.83" y2="438.53" stroke="#000" stroke-width="1.7" />
<rect x="116.33" y="433.92" width="4.70" height="98.08" fill="#000" stroke="#000" stroke-width="1.1"/>
<line x1="115.83" y1="433.92" x2="121.53" y2="433.92" stroke="#000" stroke-width="1.7" />
<line x1="130.99" y1="434.90" x2="130.99" y2="431.76" stroke="#111" stroke-width="1.2" />
<line x1="128.39" y1="431.76" x2="133.59" y2="431.76" stroke="#111" stroke-width="1.2" />
<line x1="135.69" y1="437.35" x2="135.69" y2="428.52" stroke="#111" stroke-width="1.2" />
<line x1="133.09" y1="428.52" x2="138.29" y2="428.52" stroke="#111" stroke-width="1.2" />
<line x1="140.39" y1="429.99" x2="140.39" y2="423.13" stroke="#111" stroke-width="1.2" />
<line x1="137.79" y1="423.13" x2="142.99" y2="423.13" stroke="#111" stroke-width="1.2" />
<line x1="145.09" y1="434.90" x2="145.09" y2="430.19" stroke="#111" stroke-width="1.2" />
<line x1="142.49" y1="430.19" x2="147.69" y2="430.19" stroke="#111" stroke-width="1.2" />
<rect x="128.64" y="434.90" width="4.70" height="97.10" fill="#fff" stroke="#000" stroke-width="1.1"/>
<line x1="128.14" y1="434.90" x2="133.84" y2="434.90" stroke="#000" stroke-width="1.7" />
<rect x="133.34" y="437.35" width="4.70" height="94.65" fill="#e2e2e2" stroke="#000" stroke-width="1.1"/>
<line x1="132.84" y1="437.35" x2="138.54" y2="437.35" stroke="#000" stroke-width="1.7" />
<rect x="138.04" y="429.99" width="4.70" height="102.01" fill="#858585" stroke="#000" stroke-width="1.1"/>
<line x1="137.54" y1="429.99" x2="143.24" y2="429.99" stroke="#000" stroke-width="1.7" />
<rect x="142.74" y="434.90" width="4.70" height="97.10" fill="#000" stroke="#000" stroke-width="1.1"/>
<line x1="142.24" y1="434.90" x2="147.94" y2="434.90" stroke="#000" stroke-width="1.7" />
<line x1="157.41" y1="437.06" x2="157.41" y2="430.68" stroke="#111" stroke-width="1.2" />
<line x1="154.81" y1="430.68" x2="160.01" y2="430.68" stroke="#111" stroke-width="1.2" />
<line x1="162.11" y1="429.70" x2="162.11" y2="428.91" stroke="#111" stroke-width="1.2" />
<line x1="159.51" y1="428.91" x2="164.71" y2="428.91" stroke="#111" stroke-width="1.2" />
<line x1="166.81" y1="427.84" x2="166.81" y2="423.23" stroke="#111" stroke-width="1.2" />
<line x1="164.21" y1="423.23" x2="169.41" y2="423.23" stroke="#111" stroke-width="1.2" />
<line x1="171.51" y1="447.35" x2="171.51" y2="438.72" stroke="#111" stroke-width="1.2" />
<line x1="168.91" y1="438.72" x2="174.11" y2="438.72" stroke="#111" stroke-width="1.2" />
<rect x="155.06" y="437.06" width="4.70" height="94.94" fill="#fff" stroke="#000" stroke-width="1.1"/>
<line x1="154.56" y1="437.06" x2="160.26" y2="437.06" stroke="#000" stroke-width="1.7" />
<rect x="159.76" y="429.70" width="4.70" height="102.30" fill="#e2e2e2" stroke="#000" stroke-width="1.1"/>
<line x1="159.26" y1="429.70" x2="164.96" y2="429.70" stroke="#000" stroke-width="1.7" />
<rect x="164.46" y="427.84" width="4.70" height="104.16" fill="#858585" stroke="#000" stroke-width="1.1"/>
<line x1="163.96" y1="427.84" x2="169.66" y2="427.84" stroke="#000" stroke-width="1.7" />
<rect x="169.16" y="447.35" width="4.70" height="84.65" fill="#000" stroke="#000" stroke-width="1.1"/>
<line x1="168.66" y1="447.35" x2="174.36" y2="447.35" stroke="#000" stroke-width="1.7" />
<line x1="183.83" y1="442.25" x2="183.83" y2="437.06" stroke="#111" stroke-width="1.2" />
<line x1="181.23" y1="437.06" x2="186.43" y2="437.06" stroke="#111" stroke-width="1.2" />
<line x1="188.53" y1="436.37" x2="188.53" y2="427.25" stroke="#111" stroke-width="1.2" />
<line x1="185.93" y1="427.25" x2="191.12" y2="427.25" stroke="#111" stroke-width="1.2" />
<line x1="193.23" y1="437.25" x2="193.23" y2="426.66" stroke="#111" stroke-width="1.2" />
<line x1="190.63" y1="426.66" x2="195.83" y2="426.66" stroke="#111" stroke-width="1.2" />
<line x1="197.93" y1="492.77" x2="197.93" y2="487.08" stroke="#111" stroke-width="1.2" />
<line x1="195.33" y1="487.08" x2="200.53" y2="487.08" stroke="#111" stroke-width="1.2" />
<rect x="181.48" y="442.25" width="4.70" height="89.75" fill="#fff" stroke="#000" stroke-width="1.1"/>
<line x1="180.98" y1="442.25" x2="186.68" y2="442.25" stroke="#000" stroke-width="1.7" />
<rect x="186.18" y="436.37" width="4.70" height="95.63" fill="#e2e2e2" stroke="#000" stroke-width="1.1"/>
<line x1="185.68" y1="436.37" x2="191.38" y2="436.37" stroke="#000" stroke-width="1.7" />
<rect x="190.88" y="437.25" width="4.70" height="94.75" fill="#858585" stroke="#000" stroke-width="1.1"/>
<line x1="190.38" y1="437.25" x2="196.08" y2="437.25" stroke="#000" stroke-width="1.7" />
<rect x="195.58" y="492.77" width="4.70" height="39.23" fill="#000" stroke="#000" stroke-width="1.1"/>
<line x1="195.08" y1="492.77" x2="200.78" y2="492.77" stroke="#000" stroke-width="1.7" />
<line x1="210.24" y1="455.50" x2="210.24" y2="446.47" stroke="#111" stroke-width="1.2" />
<line x1="207.64" y1="446.47" x2="212.84" y2="446.47" stroke="#111" stroke-width="1.2" />
<line x1="214.94" y1="432.74" x2="214.94" y2="418.52" stroke="#111" stroke-width="1.2" />
<line x1="212.34" y1="418.52" x2="217.54" y2="418.52" stroke="#111" stroke-width="1.2" />
<line x1="219.64" y1="442.16" x2="219.64" y2="434.60" stroke="#111" stroke-width="1.2" />
<line x1="217.04" y1="434.60" x2="222.24" y2="434.60" stroke="#111" stroke-width="1.2" />
<line x1="224.34" y1="518.86" x2="224.34" y2="508.75" stroke="#111" stroke-width="1.2" />
<line x1="221.74" y1="508.75" x2="226.94" y2="508.75" stroke="#111" stroke-width="1.2" />
<rect x="207.89" y="455.50" width="4.70" height="76.50" fill="#fff" stroke="#000" stroke-width="1.1"/>
<line x1="207.39" y1="455.50" x2="213.09" y2="455.50" stroke="#000" stroke-width="1.7" />
<rect x="212.59" y="432.74" width="4.70" height="99.26" fill="#e2e2e2" stroke="#000" stroke-width="1.1"/>
<line x1="212.09" y1="432.74" x2="217.79" y2="432.74" stroke="#000" stroke-width="1.7" />
<rect x="217.29" y="442.16" width="4.70" height="89.84" fill="#858585" stroke="#000" stroke-width="1.1"/>
<line x1="216.79" y1="442.16" x2="222.49" y2="442.16" stroke="#000" stroke-width="1.7" />
<rect x="221.99" y="518.86" width="4.70" height="13.14" fill="#000" stroke="#000" stroke-width="1.1"/>
<line x1="221.49" y1="518.86" x2="227.19" y2="518.86" stroke="#000" stroke-width="1.7" />
<line x1="72.00" y1="414.30" x2="230.50" y2="414.30" stroke="#111" stroke-width="1.2" />
<line x1="230.50" y1="414.30" x2="230.50" y2="532.00" stroke="#111" stroke-width="1.2" />
<line x1="72.00" y1="414.30" x2="72.00" y2="532.00" stroke="#000" stroke-width="1.6" />
<line x1="68.00" y1="532.00" x2="230.50" y2="532.00" stroke="#000" stroke-width="1.6" />
<line x1="67.50" y1="532.00" x2="72.00" y2="532.00" stroke="#111" stroke-width="1.2" />
<text x="60.00" y="535.90" font-size="12.8" text-anchor="end" font-weight="normal" fill="#000"  stroke="#000" stroke-width="0.5" stroke-linejoin="round">0</text>
<line x1="67.50" y1="512.38" x2="72.00" y2="512.38" stroke="#111" stroke-width="1.2" />
<text x="60.00" y="516.28" font-size="12.8" text-anchor="end" font-weight="normal" fill="#000"  stroke="#000" stroke-width="0.5" stroke-linejoin="round">20</text>
<line x1="67.50" y1="492.77" x2="72.00" y2="492.77" stroke="#111" stroke-width="1.2" />
<text x="60.00" y="496.67" font-size="12.8" text-anchor="end" font-weight="normal" fill="#000"  stroke="#000" stroke-width="0.5" stroke-linejoin="round">40</text>
<line x1="67.50" y1="473.15" x2="72.00" y2="473.15" stroke="#111" stroke-width="1.2" />
<text x="60.00" y="477.05" font-size="12.8" text-anchor="end" font-weight="normal" fill="#000"  stroke="#000" stroke-width="0.5" stroke-linejoin="round">60</text>
<line x1="67.50" y1="453.53" x2="72.00" y2="453.53" stroke="#111" stroke-width="1.2" />
<text x="60.00" y="457.43" font-size="12.8" text-anchor="end" font-weight="normal" fill="#000"  stroke="#000" stroke-width="0.5" stroke-linejoin="round">80</text>
<line x1="67.50" y1="433.92" x2="72.00" y2="433.92" stroke="#111" stroke-width="1.2" />
<text x="60.00" y="437.82" font-size="12.8" text-anchor="end" font-weight="normal" fill="#000"  stroke="#000" stroke-width="0.5" stroke-linejoin="round">100</text>
<line x1="67.50" y1="414.30" x2="72.00" y2="414.30" stroke="#111" stroke-width="1.2" />
<text x="60.00" y="418.20" font-size="12.8" text-anchor="end" font-weight="normal" fill="#000"  stroke="#000" stroke-width="0.5" stroke-linejoin="round">120</text>
<line x1="72.00" y1="532.00" x2="72.00" y2="536.00" stroke="#111" stroke-width="1.2" />
<line x1="98.42" y1="532.00" x2="98.42" y2="536.00" stroke="#111" stroke-width="1.2" />
<line x1="124.83" y1="532.00" x2="124.83" y2="536.00" stroke="#111" stroke-width="1.2" />
<line x1="151.25" y1="532.00" x2="151.25" y2="536.00" stroke="#111" stroke-width="1.2" />
<line x1="177.67" y1="532.00" x2="177.67" y2="536.00" stroke="#111" stroke-width="1.2" />
<line x1="204.08" y1="532.00" x2="204.08" y2="536.00" stroke="#111" stroke-width="1.2" />
<line x1="230.50" y1="532.00" x2="230.50" y2="536.00" stroke="#111" stroke-width="1.2" />
<text x="85.21" y="551.10" font-size="12.8" text-anchor="middle" font-weight="normal" fill="#000"  stroke="#000" stroke-width="0.5" stroke-linejoin="round">0</text>
<text x="111.62" y="551.10" font-size="12.8" text-anchor="middle" font-weight="normal" fill="#000"  stroke="#000" stroke-width="0.5" stroke-linejoin="round">0.1</text>
<text x="138.04" y="551.10" font-size="12.8" text-anchor="middle" font-weight="normal" fill="#000"  stroke="#000" stroke-width="0.5" stroke-linejoin="round">0.5</text>
<text x="164.46" y="551.10" font-size="12.8" text-anchor="middle" font-weight="normal" fill="#000"  stroke="#000" stroke-width="0.5" stroke-linejoin="round">1</text>
<text x="190.88" y="551.10" font-size="12.8" text-anchor="middle" font-weight="normal" fill="#000"  stroke="#000" stroke-width="0.5" stroke-linejoin="round">5</text>
<text x="217.29" y="551.10" font-size="12.8" text-anchor="middle" font-weight="normal" fill="#000"  stroke="#000" stroke-width="0.5" stroke-linejoin="round">10</text>
<text x="157.20" y="570.30" font-size="13" text-anchor="middle" font-weight="normal" fill="#000"  stroke="#000" stroke-width="0.4" stroke-linejoin="round">ibrutinib (µM)</text>
<text x="199.60" y="484.10" font-size="17" text-anchor="middle" font-weight="bold" fill="#000"  stroke="#000" stroke-width="0.2" stroke-linejoin="round">*</text>
<text x="226.20" y="503.40" font-size="17" text-anchor="middle" font-weight="bold" fill="#000"  stroke="#000" stroke-width="0.2" stroke-linejoin="round">*</text>
<text x="10.80" y="463.40" font-size="10.8" text-anchor="middle" font-weight="normal" fill="#000" transform="rotate(-90 10.80 463.40)"  stroke="#000" stroke-width="0.4" stroke-linejoin="round">% cell viability</text>
<text x="23.90" y="463.10" font-size="10.8" text-anchor="middle" font-weight="normal" fill="#000" transform="rotate(-90 23.90 463.10)"  stroke="#000" stroke-width="0.4" stroke-linejoin="round">normalised to DMSO</text>
<text x="37.00" y="462.50" font-size="10.8" text-anchor="middle" font-weight="normal" fill="#000" transform="rotate(-90 37.00 462.50)"  stroke="#000" stroke-width="0.4" stroke-linejoin="round">treated control</text>
<rect x="242.60" y="447.70" width="6.30" height="6.30" fill="#fff" stroke="#000" stroke-width="1.1"/>
<text x="251.90" y="455.00" font-size="12.8" text-anchor="start" font-weight="normal" fill="#000"  stroke="#000" stroke-width="0.5" stroke-linejoin="round">HL60</text>
<rect x="242.60" y="467.70" width="6.30" height="6.30" fill="#e2e2e2" stroke="#000" stroke-width="1.1"/>
<text x="251.90" y="475.00" font-size="12.8" text-anchor="start" font-weight="normal" fill="#000"  stroke="#000" stroke-width="0.5" stroke-linejoin="round">TF-1</text>
<rect x="242.60" y="487.20" width="6.30" height="6.30" fill="#858585" stroke="#000" stroke-width="1.1"/>
<text x="251.90" y="494.50" font-size="12.8" text-anchor="start" font-weight="normal" fill="#000"  stroke="#000" stroke-width="0.5" stroke-linejoin="round">THP-1</text>
<rect x="242.60" y="506.95" width="6.30" height="6.30" fill="#000" stroke="#000" stroke-width="1.1"/>
<text x="251.90" y="514.25" font-size="12.8" text-anchor="start" font-weight="normal" fill="#000"  stroke="#000" stroke-width="0.5" stroke-linejoin="round">U937</text>
<rect x="363.00" y="426.25" width="150.75" height="122.05" fill="none" stroke="#111" stroke-width="1.3"/>
<line x1="358.50" y1="548.30" x2="363.00" y2="548.30" stroke="#111" stroke-width="1.2" />
<text x="351.60" y="552.10" font-size="12.7" text-anchor="end" font-weight="normal" fill="#000"  stroke="#000" stroke-width="0.5" stroke-linejoin="round">0</text>
<line x1="358.50" y1="527.96" x2="363.00" y2="527.96" stroke="#111" stroke-width="1.2" />
<text x="351.60" y="531.76" font-size="12.7" text-anchor="end" font-weight="normal" fill="#000"  stroke="#000" stroke-width="0.5" stroke-linejoin="round">20</text>
<line x1="358.50" y1="507.62" x2="363.00" y2="507.62" stroke="#111" stroke-width="1.2" />
<text x="351.60" y="511.42" font-size="12.7" text-anchor="end" font-weight="normal" fill="#000"  stroke="#000" stroke-width="0.5" stroke-linejoin="round">40</text>
<line x1="358.50" y1="487.27" x2="363.00" y2="487.27" stroke="#111" stroke-width="1.2" />
<text x="351.60" y="491.07" font-size="12.7" text-anchor="end" font-weight="normal" fill="#000"  stroke="#000" stroke-width="0.5" stroke-linejoin="round">60</text>
<line x1="358.50" y1="466.93" x2="363.00" y2="466.93" stroke="#111" stroke-width="1.2" />
<text x="351.60" y="470.73" font-size="12.7" text-anchor="end" font-weight="normal" fill="#000"  stroke="#000" stroke-width="0.5" stroke-linejoin="round">80</text>
<line x1="358.50" y1="446.59" x2="363.00" y2="446.59" stroke="#111" stroke-width="1.2" />
<text x="351.60" y="450.39" font-size="12.7" text-anchor="end" font-weight="normal" fill="#000"  stroke="#000" stroke-width="0.5" stroke-linejoin="round">100</text>
<line x1="358.50" y1="426.25" x2="363.00" y2="426.25" stroke="#111" stroke-width="1.2" />
<text x="351.60" y="430.05" font-size="12.7" text-anchor="end" font-weight="normal" fill="#000"  stroke="#000" stroke-width="0.5" stroke-linejoin="round">120</text>
<line x1="363.00" y1="548.30" x2="363.00" y2="552.30" stroke="#111" stroke-width="1.2" />
<text x="363.00" y="567.60" font-size="13" text-anchor="middle" font-weight="normal" fill="#000"  stroke="#000" stroke-width="0.5" stroke-linejoin="round">0</text>
<line x1="400.69" y1="548.30" x2="400.69" y2="552.30" stroke="#111" stroke-width="1.2" />
<text x="400.69" y="567.60" font-size="13" text-anchor="middle" font-weight="normal" fill="#000"  stroke="#000" stroke-width="0.5" stroke-linejoin="round">10</text>
<line x1="438.38" y1="548.30" x2="438.38" y2="552.30" stroke="#111" stroke-width="1.2" />
<text x="438.38" y="567.60" font-size="13" text-anchor="middle" font-weight="normal" fill="#000"  stroke="#000" stroke-width="0.5" stroke-linejoin="round">20</text>
<line x1="476.06" y1="548.30" x2="476.06" y2="552.30" stroke="#111" stroke-width="1.2" />
<text x="476.06" y="567.60" font-size="13" text-anchor="middle" font-weight="normal" fill="#000"  stroke="#000" stroke-width="0.5" stroke-linejoin="round">30</text>
<line x1="513.75" y1="548.30" x2="513.75" y2="552.30" stroke="#111" stroke-width="1.2" />
<text x="513.75" y="567.60" font-size="13" text-anchor="middle" font-weight="normal" fill="#000"  stroke="#000" stroke-width="0.5" stroke-linejoin="round">40</text>
<line x1="368.50" y1="439.35" x2="377.30" y2="448.15" stroke="#000" stroke-width="1.45" />
<line x1="368.50" y1="448.15" x2="377.30" y2="439.35" stroke="#000" stroke-width="1.45" />
<line x1="371.20" y1="441.20" x2="380.00" y2="450.00" stroke="#000" stroke-width="1.45" />
<line x1="371.20" y1="450.00" x2="380.00" y2="441.20" stroke="#000" stroke-width="1.45" />
<line x1="380.00" y1="444.60" x2="388.80" y2="453.40" stroke="#000" stroke-width="1.45" />
<line x1="380.00" y1="453.40" x2="388.80" y2="444.60" stroke="#000" stroke-width="1.45" />
<line x1="378.10" y1="451.20" x2="386.90" y2="460.00" stroke="#000" stroke-width="1.45" />
<line x1="378.10" y1="460.00" x2="386.90" y2="451.20" stroke="#000" stroke-width="1.45" />
<line x1="389.35" y1="456.20" x2="398.15" y2="465.00" stroke="#000" stroke-width="1.45" />
<line x1="389.35" y1="465.00" x2="398.15" y2="456.20" stroke="#000" stroke-width="1.45" />
<line x1="383.10" y1="465.00" x2="391.90" y2="473.80" stroke="#000" stroke-width="1.45" />
<line x1="383.10" y1="473.80" x2="391.90" y2="465.00" stroke="#000" stroke-width="1.45" />
<line x1="360.60" y1="462.60" x2="369.40" y2="471.40" stroke="#000" stroke-width="1.45" />
<line x1="360.60" y1="471.40" x2="369.40" y2="462.60" stroke="#000" stroke-width="1.45" />
<line x1="363.10" y1="462.10" x2="371.90" y2="470.90" stroke="#000" stroke-width="1.45" />
<line x1="363.10" y1="470.90" x2="371.90" y2="462.10" stroke="#000" stroke-width="1.45" />
<line x1="365.60" y1="464.10" x2="374.40" y2="472.90" stroke="#000" stroke-width="1.45" />
<line x1="365.60" y1="472.90" x2="374.40" y2="464.10" stroke="#000" stroke-width="1.45" />
<line x1="367.10" y1="465.60" x2="375.90" y2="474.40" stroke="#000" stroke-width="1.45" />
<line x1="367.10" y1="474.40" x2="375.90" y2="465.60" stroke="#000" stroke-width="1.45" />
<line x1="368.60" y1="464.60" x2="377.40" y2="473.40" stroke="#000" stroke-width="1.45" />
<line x1="368.60" y1="473.40" x2="377.40" y2="464.60" stroke="#000" stroke-width="1.45" />
<line x1="366.20" y1="479.35" x2="375.00" y2="488.15" stroke="#000" stroke-width="1.45" />
<line x1="366.20" y1="488.15" x2="375.00" y2="479.35" stroke="#000" stroke-width="1.45" />
<line x1="364.10" y1="483.60" x2="372.90" y2="492.40" stroke="#000" stroke-width="1.45" />
<line x1="364.10" y1="492.40" x2="372.90" y2="483.60" stroke="#000" stroke-width="1.45" />
<line x1="366.60" y1="485.60" x2="375.40" y2="494.40" stroke="#000" stroke-width="1.45" />
<line x1="366.60" y1="494.40" x2="375.40" y2="485.60" stroke="#000" stroke-width="1.45" />
<line x1="367.60" y1="488.60" x2="376.40" y2="497.40" stroke="#000" stroke-width="1.45" />
<line x1="367.60" y1="497.40" x2="376.40" y2="488.60" stroke="#000" stroke-width="1.45" />
<line x1="372.50" y1="486.20" x2="381.30" y2="495.00" stroke="#000" stroke-width="1.45" />
<line x1="372.50" y1="495.00" x2="381.30" y2="486.20" stroke="#000" stroke-width="1.45" />
<line x1="379.35" y1="491.85" x2="388.15" y2="500.65" stroke="#000" stroke-width="1.45" />
<line x1="379.35" y1="500.65" x2="388.15" y2="491.85" stroke="#000" stroke-width="1.45" />
<line x1="388.10" y1="500.60" x2="396.90" y2="509.40" stroke="#000" stroke-width="1.45" />
<line x1="388.10" y1="509.40" x2="396.90" y2="500.60" stroke="#000" stroke-width="1.45" />
<line x1="393.10" y1="495.00" x2="401.90" y2="503.80" stroke="#000" stroke-width="1.45" />
<line x1="393.10" y1="503.80" x2="401.90" y2="495.00" stroke="#000" stroke-width="1.45" />
<line x1="400.00" y1="494.35" x2="408.80" y2="503.15" stroke="#000" stroke-width="1.45" />
<line x1="400.00" y1="503.15" x2="408.80" y2="494.35" stroke="#000" stroke-width="1.45" />
<line x1="395.60" y1="510.60" x2="404.40" y2="519.40" stroke="#000" stroke-width="1.45" />
<line x1="395.60" y1="519.40" x2="404.40" y2="510.60" stroke="#000" stroke-width="1.45" />
<line x1="425.35" y1="501.20" x2="434.15" y2="510.00" stroke="#000" stroke-width="1.45" />
<line x1="425.35" y1="510.00" x2="434.15" y2="501.20" stroke="#000" stroke-width="1.45" />
<line x1="436.85" y1="525.35" x2="445.65" y2="534.15" stroke="#000" stroke-width="1.45" />
<line x1="436.85" y1="534.15" x2="445.65" y2="525.35" stroke="#000" stroke-width="1.45" />
<line x1="456.20" y1="513.60" x2="465.00" y2="522.40" stroke="#000" stroke-width="1.45" />
<line x1="456.20" y1="522.40" x2="465.00" y2="513.60" stroke="#000" stroke-width="1.45" />
<line x1="455.60" y1="522.60" x2="464.40" y2="531.40" stroke="#000" stroke-width="1.45" />
<line x1="455.60" y1="531.40" x2="464.40" y2="522.60" stroke="#000" stroke-width="1.45" />
<line x1="467.60" y1="520.85" x2="476.40" y2="529.65" stroke="#000" stroke-width="1.45" />
<line x1="467.60" y1="529.65" x2="476.40" y2="520.85" stroke="#000" stroke-width="1.45" />
<line x1="463.10" y1="530.60" x2="471.90" y2="539.40" stroke="#000" stroke-width="1.45" />
<line x1="463.10" y1="539.40" x2="471.90" y2="530.60" stroke="#000" stroke-width="1.45" />
<line x1="463.60" y1="526.60" x2="472.40" y2="535.40" stroke="#000" stroke-width="1.45" />
<line x1="463.60" y1="535.40" x2="472.40" y2="526.60" stroke="#000" stroke-width="1.45" />
<line x1="364.00" y1="466.00" x2="470.00" y2="533.00" stroke="#000" stroke-width="1.4" />
<text x="424.00" y="457.80" font-size="15.6" text-anchor="start" font-weight="normal" fill="#000" textLength="69.8" lengthAdjust="spacingAndGlyphs"  stroke="#000" stroke-width="0.4" stroke-linejoin="round">R² = 0.649</text>
<text x="437.10" y="585.20" font-size="12.9" text-anchor="middle" font-weight="normal" fill="#000"  stroke="#000" stroke-width="0.4" stroke-linejoin="round">IC50 values (µM)</text>
<text x="324.60" y="486.50" font-size="13.1" text-anchor="middle" font-weight="normal" fill="#000" transform="rotate(-90 324.60 486.50)"  stroke="#000" stroke-width="0.4" stroke-linejoin="round">% phospho-BTK</text>
</svg>
</body>
</html>
